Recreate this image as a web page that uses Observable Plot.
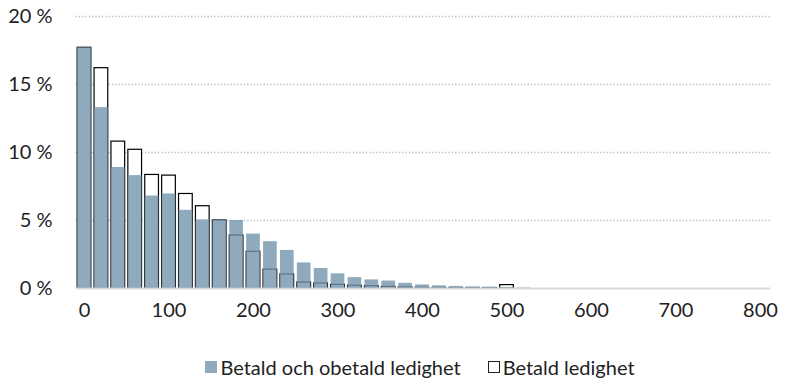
<!DOCTYPE html>
<html>
<head>
<meta charset="utf-8">
<script src="https://cdn.jsdelivr.net/npm/d3@7"></script>
<script src="https://cdn.jsdelivr.net/npm/@observablehq/plot@0.6"></script>
<style>
  body { margin: 0; background: #fff; font-family: Lato, "Open Sans", sans-serif; }
  #chart { width: 788px; }
  .legend { display: flex; justify-content: center; align-items: center; gap: 27px; margin-top: 25px; margin-left: 52px; font-size: 20px; color: #222; }
  .legend .item { display: flex; align-items: center; gap: 3px; }
  .legend .sw { width: 12px; height: 12px; box-sizing: border-box; display: inline-block; }
</style>
</head>
<body>
<div id="chart"></div>
<script>
const bins = [0,20,40,60,80,100,120,140,160,180,200,220,240,260,280,300,320,340,360,380,400,420,440,460,480,500,520];
const totalLeave = [17.7,13.3,8.9,8.3,6.8,6.95,5.75,5.05,5.0,5.0,4.0,3.44,2.8,1.88,1.47,1.08,0.8,0.63,0.55,0.38,0.26,0.2,0.15,0.12,0.1,0.08,0.04];
const paidLeave = [17.7,16.2,10.8,10.2,8.35,8.3,6.95,6.05,5.0,3.9,2.7,1.39,1.03,0.44,0.37,0.27,0.2,0.17,0.12,0.08,0.05,0.04,0.03,0.03,0.03,0.25,0];
const xTicks = [0,100,200,300,400,500,600,700,800];
const yTicks = [0,5,10,15,20];
const seriesNames = ["Betald och obetald ledighet", "Betald ledighet"];
const fillColor = "#7395AB";
const swatchColor = "#8FAABC";

const paid = bins.map((b, i) => ({x: b, v: paidLeave[i]}));
const total = bins.map((b, i) => ({x: b, v: totalLeave[i]}));

const chart = Plot.plot({
  width: 788,
  height: 330,
  marginLeft: 84,
  marginRight: 28,
  marginTop: 16,
  marginBottom: 42,
  style: {fontFamily: "Lato, 'Open Sans', sans-serif", fontSize: "20px", color: "#222", background: "#fff"},
  x: {domain: [0, 800], ticks: xTicks, tickSize: 0, tickPadding: 14, label: null},
  y: {domain: [0, 20], ticks: yTicks, tickSize: 0, tickPadding: 32, tickFormat: d => d + " %", label: null},
  marks: [
    Plot.ruleY(yTicks.filter(d => d > 0), {x1: -10, x2: 812, stroke: "#bdbdbd", strokeWidth: 1.3, strokeDasharray: "1.3,2"}),
    Plot.rectY(paid, {x1: d => d.x - 10, x2: d => d.x + 10, y: "v", insetLeft: 1.6, insetRight: 1.6, fill: "#fff", stroke: "#000", strokeWidth: 1.2}),
    Plot.rectY(total, {x1: d => d.x - 10, x2: d => d.x + 10, y: "v", insetLeft: 1.6, insetRight: 1.6, fill: fillColor, fillOpacity: 0.8}),
    Plot.ruleY([0], {x1: -10, x2: 812, stroke: "#d9d9d9", strokeWidth: 2})
  ]
});
document.getElementById("chart").appendChild(chart);

const legend = document.createElement("div");
legend.className = "legend";
legend.innerHTML = `
  <div class="item"><span class="sw" style="background:${swatchColor}"></span><span>${seriesNames[0]}</span></div>
  <div class="item"><span class="sw" style="background:#fff;border:1px solid #222"></span><span>${seriesNames[1]}</span></div>`;
document.getElementById("chart").appendChild(legend);
</script>
</body>
</html>
